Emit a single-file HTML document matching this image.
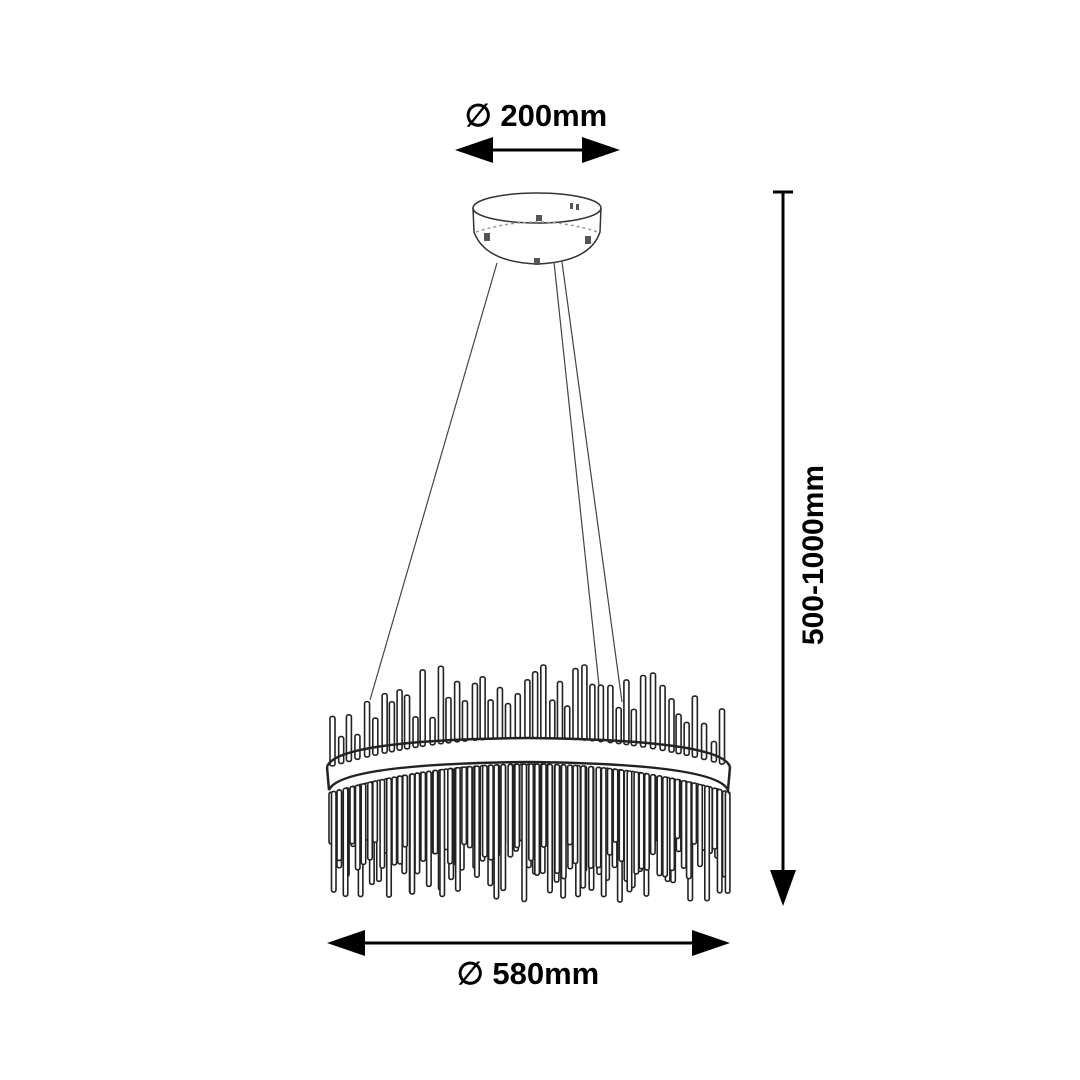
<!DOCTYPE html>
<html><head><meta charset="utf-8"><style>
html,body{margin:0;padding:0;background:#fff;}
svg{display:block}
text{font-family:"Liberation Sans",sans-serif;font-weight:bold;fill:#000}
</style></head><body>
<svg id="s" width="1080" height="1080" viewBox="0 0 1080 1080" xmlns="http://www.w3.org/2000/svg">
<rect width="1080" height="1080" fill="#fff"/>
<text x="536" y="126" font-size="31" text-anchor="middle">∅ 200mm</text>
<line x1="480" y1="150" x2="595" y2="150" stroke="#000" stroke-width="3"/>
<polygon points="455,150 493,137 493,163" fill="#000"/>
<polygon points="620,150 582,137 582,163" fill="#000"/>
<g fill="none" stroke="#333" stroke-width="1.5">
<ellipse cx="537" cy="208" rx="64" ry="15"/>
<path d="M473,208 L474,232 Q485,262 537,264 Q590,262 600,232 L601,208"/>
<path d="M476,232 Q537,212 598,232" stroke="#999" stroke-dasharray="3 3"/>
</g>
<g fill="#555"><rect x="484" y="233" width="6" height="8"/><rect x="536" y="215" width="6" height="6"/><rect x="585" y="236" width="6" height="8"/><rect x="534" y="258" width="6" height="7"/><rect x="570" y="203" width="3" height="6"/><rect x="576" y="204" width="3" height="6"/></g>
<g stroke="#444" stroke-width="1.2">
<line x1="497" y1="263" x2="370" y2="700"/>
<line x1="554" y1="262" x2="600" y2="695"/>
<line x1="562" y1="262" x2="622" y2="702"/>
</g>
<g id="rods" stroke="#222" stroke-width="1.6" fill="#fff"></g>
<g stroke="#222" stroke-width="2.5" fill="none">
<path d="M327,767 Q335,740 528,738 Q722,740 730,767"/>
<path d="M327,767 L329,790 Q340,764 528,762 Q716,764 728,790 L730,767"/>
</g>
<line x1="783" y1="192" x2="783" y2="880" stroke="#000" stroke-width="3"/>
<line x1="773" y1="192" x2="793" y2="192" stroke="#000" stroke-width="3"/>
<polygon points="770,870 796,870 783,906" fill="#000"/>
<text x="0" y="0" font-size="30" text-anchor="middle" transform="translate(823,555) rotate(-90)">500-1000mm</text>
<line x1="355" y1="943" x2="705" y2="943" stroke="#000" stroke-width="3"/>
<polygon points="327,943 365,930 365,956" fill="#000"/>
<polygon points="730,943 692,930 692,956" fill="#000"/>
<text x="528" y="984" font-size="31" text-anchor="middle">∅ 580mm</text>
</svg>
<script>
var g=document.getElementById('rods'),ns='http://www.w3.org/2000/svg';
var seed=7;function r(){seed=(seed*9301+49297)%233280;return seed/233280;}
function rod(x,y1,y2,w){var e=document.createElementNS(ns,'rect');e.setAttribute('x',x);e.setAttribute('y',Math.min(y1,y2));e.setAttribute('width',w);e.setAttribute('height',Math.abs(y2-y1));e.setAttribute('rx',2);g.appendChild(e);}
function bandTop(x){var t=(x-528)/202;return 738+29*t*t;}
for(var x=330;x<726;x+=7+r()*3){var bt=bandTop(x);var h=20+r()*60;if(Math.abs(x-500)<40||Math.abs(x-570)<40)h+=10;rod(x,bt,Math.max(bt-h,665),5);}
for(var k=0;k<2;k++){for(var x=329+k*2.5;x<726;x+=5+r()*3){var bb=bandTop(x)+26;var c=1-Math.pow((x-528)/202,2);var h=45+r()*65+c*30;rod(x,bb,Math.min(bb+h,910),4.5);}}
</script>
</body></html>
